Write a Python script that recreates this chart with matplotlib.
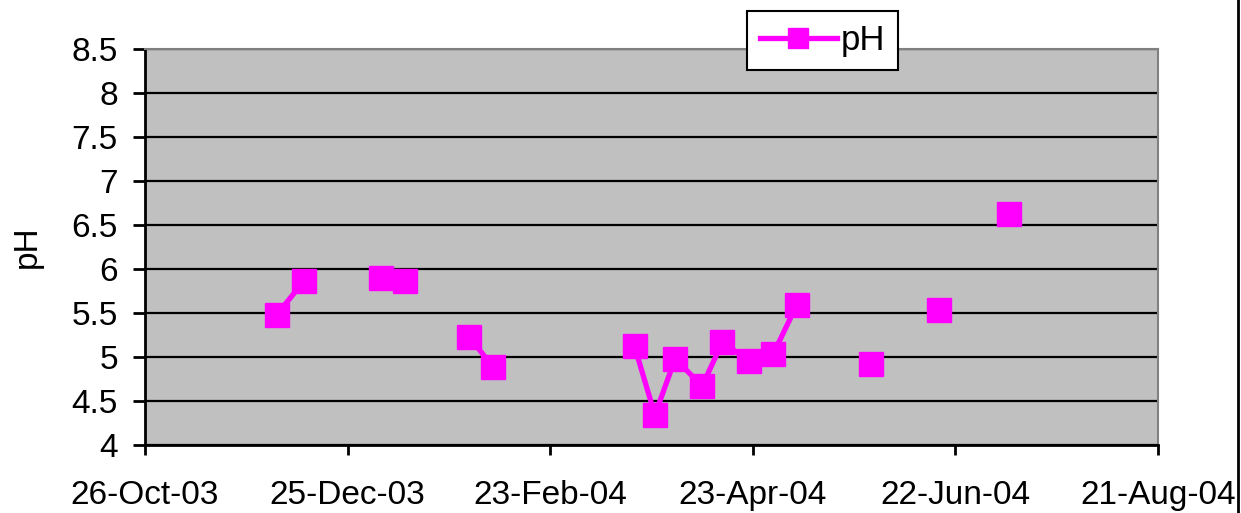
import numpy as np
import matplotlib
matplotlib.use("Agg")
import matplotlib.pyplot as plt
import matplotlib.dates as mdates
from matplotlib.lines import Line2D
import datetime as dt

plt.rcParams['font.family'] = ['Liberation Sans', 'DejaVu Sans']

# sampling dates, pH readings and the run each reading belongs to
# (readings in the same run are joined by a line)
dates = ["2003-12-04", "2003-12-12", "2004-01-04", "2004-01-11",
         "2004-01-30", "2004-02-06", "2004-03-19", "2004-03-25",
         "2004-03-31", "2004-04-08", "2004-04-14", "2004-04-22",
         "2004-04-29", "2004-05-06", "2004-05-28", "2004-06-17",
         "2004-07-08"]
ph = [5.48, 5.86, 5.90, 5.86,
      5.23, 4.89, 5.12, 4.34,
      4.98, 4.67, 5.17, 4.95,
      5.03, 5.59, 4.92, 5.53,
      6.63]
run = [0, 0, 1, 1, 2, 2, 3, 3, 3, 3, 3, 3, 3, 3, 4, 5, 6]

x_start = dt.date(2003, 10, 26)
x_end = dt.date(2004, 8, 21)
tick_step = 60  # days

d = np.array([dt.date.fromisoformat(s) for s in dates])
v = np.array(ph)
r = np.array(run)

fs = 24

fig = plt.figure(figsize=(12.41, 5.13), dpi=100)
ax = fig.add_axes([145 / 1241, 68 / 513, 1013 / 1241, 396 / 513])
ax.set_facecolor('#c0c0c0')

col = '#ff00ff'
for k in np.unique(r):
    m = r == k
    ax.plot(d[m], v[m], color=col, lw=3.8, marker='s', ms=17,
            mec=col, mfc=col, solid_joinstyle='round', zorder=3)

ax.set_xlim(x_start, x_end)
ax.set_ylim(4, 8.5)
ticks = [x_start + dt.timedelta(days=tick_step * i) for i in range(6)]
ax.set_xticks(ticks)
ax.xaxis.set_major_formatter(mdates.DateFormatter('%d-%b-%y'))
ax.set_yticks(np.arange(4, 8.51, 0.5))
ax.set_yticklabels(['4', '4.5', '5', '5.5', '6', '6.5', '7', '7.5', '8', '8.5'])

ax.yaxis.grid(True, color='black', lw=1.6)
ax.set_axisbelow(True)
for s in ['top', 'right']:
    ax.spines[s].set_color('#808080')
    ax.spines[s].set_linewidth(1.5)
for s in ['left', 'bottom']:
    ax.spines[s].set_color('black')
    ax.spines[s].set_linewidth(2)

ax.tick_params(axis='both', labelsize=fs, direction='out', width=2,
               color='black')
ax.tick_params(axis='y', length=8.5, pad=11)
ax.tick_params(axis='x', length=7, pad=18)
ax.set_ylabel('pH', fontsize=fs, labelpad=21)

handle = Line2D([], [], color=col, lw=3.8, marker='s', ms=14,
                mec=col, mfc=col)
leg = fig.legend([handle], ['pH'], loc='upper left',
                 bbox_to_anchor=(747 / 1241, 1 - 11 / 513),
                 fontsize=fs + 1, frameon=True, fancybox=False,
                 framealpha=1, facecolor='white',
                 edgecolor='black', handlelength=2.2, handletextpad=0.12,
                 borderpad=0.38, borderaxespad=0)
leg.get_frame().set_linewidth(1.5)

# chart area border on the right
fig.add_artist(Line2D([1238 / 1241, 1238 / 1241], [0, 1], color='black',
                      lw=2, transform=fig.transFigure))

fig.savefig('out.png', dpi=100)
